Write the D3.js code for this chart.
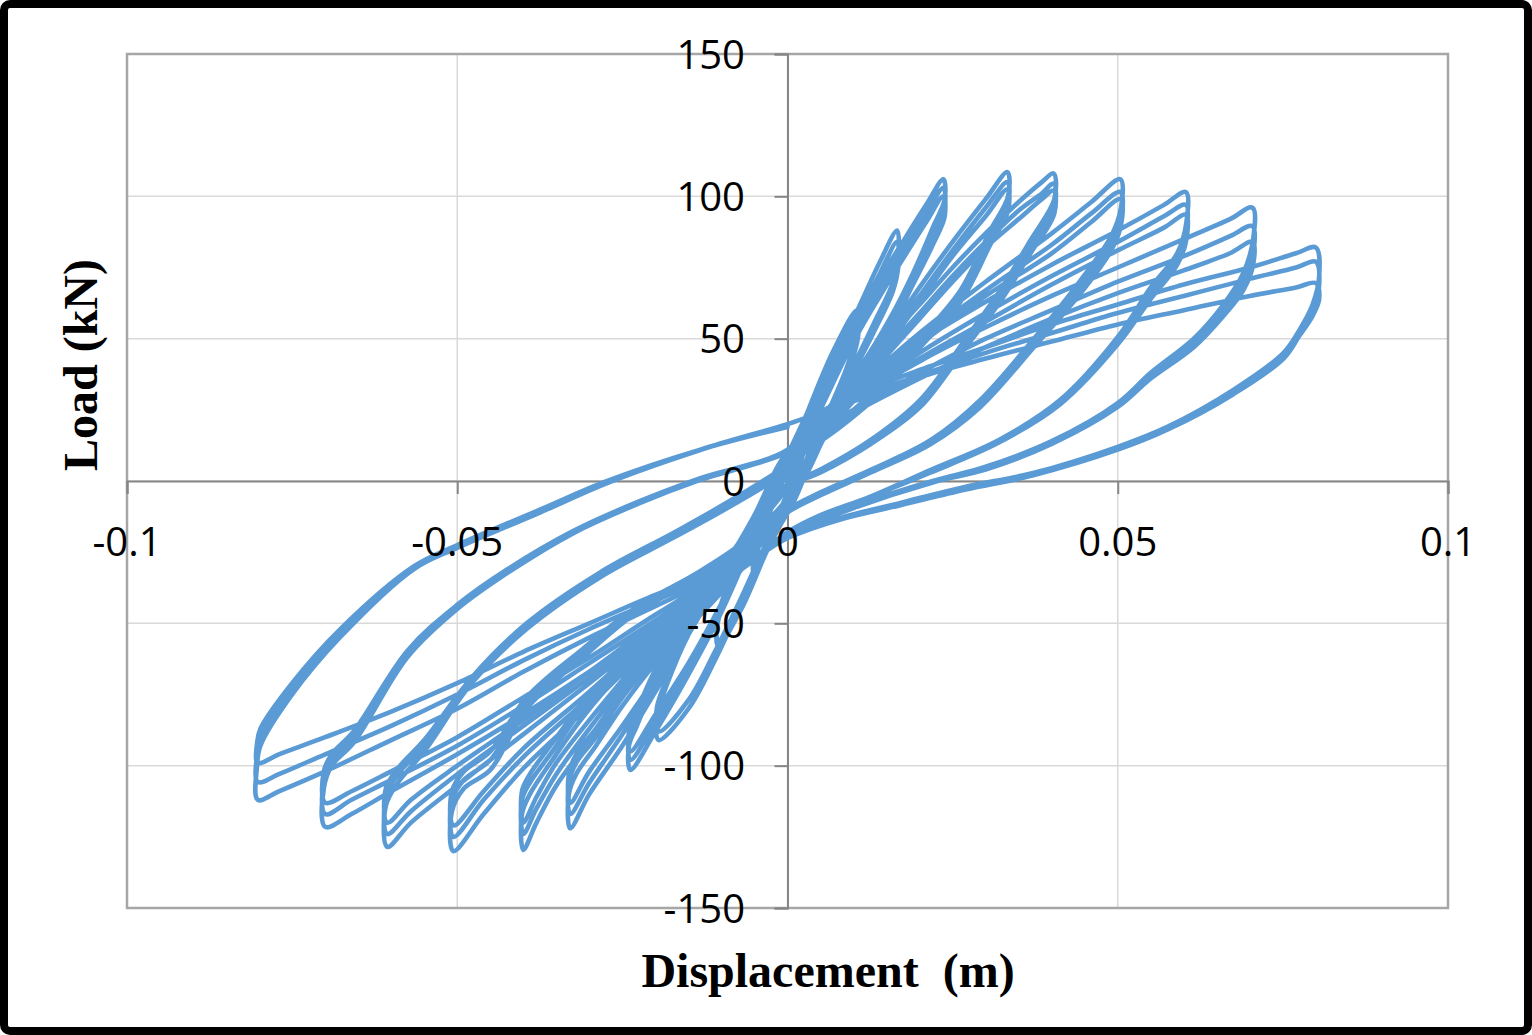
<!DOCTYPE html>
<html>
<head>
<meta charset="utf-8">
<script src="https://cdn.jsdelivr.net/npm/d3@7"></script>
<style>
  html, body { margin: 0; padding: 0; background: #fff; }
  svg { display: block; }
</style>
</head>
<body>
<svg id="chart" width="1532" height="1035"></svg>
<script>
// ---- Data: [displacement (m), load (kN)] ----
const xTicks = [-0.1, -0.05, 0, 0.05, 0.1];
const xTickLabels = ["-0.1", "-0.05", "0", "0.05", "0.1"];
const yTicks = [150, 100, 50, 0, -50, -100, -150];
const yTickLabels = ["150", "100", "50", "0", "-50", "-100", "-150"];

const cyclesSmall = [
  [0,0],[0.0025,18],[0.005,34],[0.0052,30],[0.003,14],[0,-5],[-0.0025,-19],[-0.005,-33],[-0.0052,-29],[-0.003,-13],[0,4],
  [0.0025,19],[0.005,33],[0.0052,28],[0.003,13],[0,-4],[-0.0025,-18],[-0.005,-32],[-0.0052,-28],[-0.003,-12],[0,5],
  [0.003,24],[0.007,46],[0.0105,60],[0.0107,54],[0.009,40],[0.005,18],[0.001,-6],[-0.003,-24],[-0.007,-45],[-0.0105,-58],[-0.0107,-52],[-0.009,-38],[-0.005,-18],[-0.001,4],
  [0.003,24],[0.007,45],[0.0105,57],[0.0107,51],[0.009,37],[0.005,16],[0.001,-7],[-0.003,-23],[-0.007,-43],[-0.0105,-56],[-0.0107,-50],[-0.009,-36],[-0.005,-16],[-0.001,5],
  [0.003,22],[0.007,42],[0.011,62],[0.014,77],[0.0166,88],[0.0168,80],[0.016,70],[0.013,55],[0.009,36],[0.004,14],[0.001,-4],[-0.003,-22],[-0.007,-43],[-0.011,-63],[-0.015,-80],[-0.0195,-91],[-0.0198,-83],[-0.018,-70],[-0.015,-54],[-0.010,-34],[-0.005,-14],[-0.001,6],
  [0.003,21],[0.007,40],[0.011,59],[0.014,73],[0.0166,84],[0.0168,76],[0.016,67],[0.013,52],[0.009,34],[0.004,12],[0.001,-5],[-0.003,-21],[-0.007,-41],[-0.011,-60],[-0.015,-77],[-0.0195,-88],[-0.0198,-80],[-0.018,-68],[-0.015,-52],[-0.010,-32],[-0.005,-12],[-0.001,7]
];

const cycles024 = [
  [0.003,18],[0.006,34],[0.010,54],[0.014,71],[0.018,86],[0.021,97],[0.0236,106],[0.0238,99],[0.022,89],[0.019,73],[0.0155,57],[0.011,40],[0.006,25],[0.002,13],[0,6],
  [-0.003,-8],[-0.006,-25],[-0.010,-46],[-0.015,-68],[-0.020,-88],[-0.0238,-101.5],[-0.024,-93],[-0.0228,-86],[-0.021,-76],[-0.018,-61],[-0.014,-46],[-0.009,-30],[-0.004,-14],[0,-2],
  [0.003,15],[0.006,31],[0.010,51],[0.014,68],[0.018,83],[0.021,94],[0.0236,103],[0.0238,96],[0.022,86],[0.019,71],[0.0155,55],[0.011,38],[0.006,23],[0.002,11],[0,5],
  [-0.003,-9],[-0.006,-25],[-0.010,-45],[-0.015,-66],[-0.020,-85],[-0.0238,-98],[-0.024,-90],[-0.0228,-83],[-0.021,-73],[-0.018,-59],[-0.014,-44],[-0.009,-28],[-0.004,-12],[0,-1],
  [0.003,15],[0.006,30],[0.010,49],[0.014,65],[0.018,80],[0.021,91],[0.0236,100],[0.0238,93],[0.022,83],[0.019,69],[0.0155,53],[0.011,37],[0.006,22],[0.002,10],[0,4],
  [-0.003,-9],[-0.006,-24],[-0.010,-43],[-0.015,-64],[-0.020,-82],[-0.0238,-95],[-0.024,-88],[-0.0228,-81],[-0.021,-71],[-0.018,-57],[-0.014,-42],[-0.009,-27],[-0.004,-11],[0,-1]
];

const cycles033 = [
  [0.003,8],[0.006,20],[0.010,34],[0.015,51],[0.020,68],[0.025,84],[0.030,99],[0.0333,108.5],[0.0334,100],[0.0307,88],[0.0262,67],[0.0201,50],[0.0141,34],[0.008,21],[0.002,11],[0,7],
  [-0.003,-4],[-0.006,-18],[-0.010,-34],[-0.015,-54],[-0.020,-74],[-0.025,-93],[-0.030,-110],[-0.0329,-122],[-0.0331,-110],[-0.032,-103],[-0.029,-93],[-0.025,-79],[-0.020,-64],[-0.014,-49],[-0.008,-34],[-0.003,-19],[0,-9],
  [0.003,6],[0.006,18],[0.010,32],[0.015,49],[0.020,65],[0.025,81],[0.030,96],[0.0333,105],[0.0334,97],[0.0307,85],[0.0262,65],[0.0201,48],[0.0141,32],[0.008,20],[0.002,10],[0,6],
  [-0.003,-5],[-0.006,-18],[-0.010,-33],[-0.015,-52],[-0.020,-71],[-0.025,-89],[-0.030,-106],[-0.0329,-117],[-0.0331,-106],[-0.032,-99],[-0.029,-90],[-0.025,-76],[-0.020,-62],[-0.014,-47],[-0.008,-33],[-0.003,-18],[0,-8],
  [0.003,6],[0.006,17],[0.010,31],[0.015,47],[0.020,63],[0.025,79],[0.030,93],[0.0333,102.5],[0.0334,95],[0.0307,83],[0.0262,63],[0.0201,47],[0.0141,31],[0.008,19],[0.002,9],[0,5],
  [-0.003,-5],[-0.006,-17],[-0.010,-32],[-0.015,-51],[-0.020,-69],[-0.025,-86],[-0.030,-102],[-0.0329,-113],[-0.0331,-103],[-0.032,-96],[-0.029,-87],[-0.025,-74],[-0.020,-60],[-0.014,-46],[-0.008,-32],[-0.003,-17],[0,-8]
];

const cycles040 = [
  [0.003,5],[0.006,20],[0.010,34],[0.015,49],[0.020,62],[0.025,75],[0.030,87],[0.035,98],[0.0385,105],[0.0403,108],[0.0404,99],[0.0368,84.6],[0.0322,67],[0.027,50],[0.0201,28.5],[0.0126,14.4],[0.005,4],[0,-1.4],
  [-0.003,-10],[-0.006,-20],[-0.010,-32],[-0.015,-46],[-0.020,-60],[-0.025,-75],[-0.030,-91],[-0.035,-107],[-0.038,-120],[-0.040,-129.6],[-0.0402,-117],[-0.039,-110],[-0.0356,-98],[-0.031,-83],[-0.025,-67],[-0.018,-52],[-0.011,-38],[-0.005,-22],[0,-10],
  [0.003,4],[0.006,18],[0.010,31],[0.015,46],[0.020,59],[0.025,72],[0.030,84],[0.035,95],[0.0385,101],[0.0403,104.5],[0.0404,96],[0.0368,82],[0.0322,65],[0.027,48],[0.0201,27],[0.0126,13.5],[0.005,3],[0,-2],
  [-0.003,-11],[-0.006,-20],[-0.010,-31],[-0.015,-44],[-0.020,-58],[-0.025,-72],[-0.030,-87],[-0.035,-103],[-0.038,-115],[-0.040,-124],[-0.0402,-112],[-0.039,-106],[-0.0356,-95],[-0.031,-80],[-0.025,-65],[-0.018,-50],[-0.011,-37],[-0.005,-21],[0,-9],
  [0.003,4],[0.006,17],[0.010,30],[0.015,44],[0.020,57],[0.025,70],[0.030,82],[0.035,92],[0.0385,99],[0.0403,102],[0.0404,94],[0.0368,80],[0.0322,63],[0.027,47],[0.0201,26],[0.0126,13],[0.005,3],[0,-2],
  [-0.003,-11],[-0.006,-20],[-0.010,-30],[-0.015,-43],[-0.020,-56],[-0.025,-70],[-0.030,-84],[-0.035,-99],[-0.038,-111],[-0.040,-120],[-0.0402,-109],[-0.039,-103],[-0.0356,-92],[-0.031,-78],[-0.025,-63],[-0.018,-49],[-0.011,-36],[-0.005,-20],[0,-9]
];

const cycles050 = [
  [0.003,4],[0.006,19],[0.010,31],[0.015,42],[0.020,52],[0.030,70],[0.040,87],[0.046,98],[0.0504,106],[0.0505,96],[0.049,86],[0.0444,70.6],[0.0373,50],[0.0292,28.5],[0.0217,14.4],[0.0126,3.9],[0.005,-4],[0,-10],
  [-0.003,-16],[-0.006,-26],[-0.010,-34],[-0.015,-44],[-0.020,-56],[-0.030,-79],[-0.040,-101],[-0.046,-117],[-0.0506,-130],[-0.0508,-116],[-0.049,-108],[-0.045,-101.5],[-0.0395,-80],[-0.031,-62],[-0.0227,-46],[-0.0142,-35],[-0.007,-24],[0,-8],
  [0.003,3],[0.006,17],[0.010,29],[0.015,40],[0.020,50],[0.030,67],[0.040,83],[0.046,94],[0.0504,101.5],[0.0505,92],[0.049,83],[0.0444,68],[0.0373,48],[0.0292,27],[0.0217,13.5],[0.0126,3],[0.005,-5],[0,-11],
  [-0.003,-17],[-0.006,-26],[-0.010,-34],[-0.015,-43],[-0.020,-54],[-0.030,-76],[-0.040,-97],[-0.046,-112],[-0.0506,-125],[-0.0508,-112],[-0.049,-105],[-0.045,-98],[-0.0395,-78],[-0.031,-60],[-0.0227,-45],[-0.0142,-34],[-0.007,-23],[0,-7],
  [0.003,4],[0.006,17],[0.010,28],[0.015,39],[0.020,48],[0.030,65],[0.040,80],[0.046,91],[0.0504,99],[0.0505,90],[0.049,81],[0.0444,66],[0.0373,47],[0.0292,26],[0.0217,13],[0.0126,3],[0.005,-5],[0,-11],
  [-0.003,-17],[-0.006,-26],[-0.010,-33],[-0.015,-42],[-0.020,-53],[-0.030,-74],[-0.040,-94],[-0.046,-109],[-0.0506,-121],[-0.0508,-109],[-0.049,-102],[-0.045,-95],[-0.0395,-76],[-0.031,-59],[-0.0227,-44],[-0.0142,-33],[-0.007,-22],[0,-6]
];

const cycles060 = [
  [0.003,8],[0.006,22],[0.010,33],[0.020,49],[0.030,63],[0.040,76],[0.050,88],[0.057,97],[0.0603,101.5],[0.0604,91],[0.059,80],[0.055,68],[0.050,50.6],[0.0413,28.5],[0.032,14.4],[0.0217,3.9],[0.012,-6],[0.005,-12],[0,-18],
  [-0.004,-26],[-0.010,-36],[-0.020,-53],[-0.030,-71],[-0.040,-89],[-0.050,-107],[-0.057,-120],[-0.0606,-128.5],[-0.0608,-114],[-0.059,-106],[-0.055,-95],[-0.0478,-71],[-0.0395,-52],[-0.0283,-33.7],[-0.0171,-19.7],[-0.008,-8],[0,4],
  [0.004,16],[0.010,29],[0.020,45],[0.030,59],[0.040,72],[0.050,84],[0.057,93],[0.0603,97],[0.0604,88],[0.059,78],[0.055,66],[0.050,49],[0.0413,27.5],[0.032,14],[0.0217,3.5],[0.012,-6],[0.005,-12],[0,-18],
  [-0.004,-26],[-0.010,-35],[-0.020,-51],[-0.030,-69],[-0.040,-86],[-0.050,-103],[-0.057,-116],[-0.0606,-124],[-0.0608,-111],[-0.059,-103],[-0.055,-93],[-0.0478,-70],[-0.0395,-51],[-0.0283,-33],[-0.0171,-19],[-0.008,-7],[0,5],
  [0.004,16],[0.010,28],[0.020,43],[0.030,56],[0.040,69],[0.050,81],[0.057,89],[0.0603,93.5],[0.0604,85],[0.059,76],[0.055,64],[0.050,48],[0.0413,27],[0.032,13.5],[0.0217,3],[0.012,-6],[0.005,-12],[0,-18],
  [-0.004,-25],[-0.010,-34],[-0.020,-50],[-0.030,-67],[-0.040,-84],[-0.050,-100],[-0.057,-112],[-0.0606,-120],[-0.0608,-108],[-0.059,-101],[-0.055,-91],[-0.0478,-69],[-0.0395,-50],[-0.0283,-32],[-0.0171,-18],[-0.008,-6],[0,6]
];

const cycles070 = [
  [0.004,16],[0.010,28],[0.020,42],[0.030,54],[0.040,65],[0.050,75],[0.060,85],[0.067,92],[0.0704,96],[0.0705,85],[0.069,73],[0.066,62],[0.0615,50],[0.055,38],[0.050,27.4],[0.040,14],[0.030,5],[0.022,0],[0.010,-9],[0,-19],
  [-0.005,-27],[-0.010,-35],[-0.020,-51],[-0.030,-67],[-0.040,-82],[-0.050,-96],[-0.060,-109],[-0.066,-117],[-0.070,-121.5],[-0.0702,-108],[-0.069,-100],[-0.0657,-92],[-0.0575,-61.8],[-0.050,-45],[-0.0424,-32.3],[-0.0324,-18.3],[-0.0223,-7.7],[-0.0132,0.4],[0,10],
  [0.005,18],[0.010,25],[0.020,38],[0.030,50],[0.040,60],[0.050,70],[0.060,79],[0.067,86],[0.0704,89.5],[0.0705,80],[0.069,70],[0.066,60],[0.0615,48],[0.055,37],[0.050,26.5],[0.040,13.5],[0.030,4.5],[0.022,0],[0.010,-9],[0,-19],
  [-0.005,-27],[-0.010,-34],[-0.020,-49],[-0.030,-64],[-0.040,-79],[-0.050,-93],[-0.060,-105],[-0.066,-112],[-0.070,-117],[-0.0702,-105],[-0.069,-98],[-0.0657,-90],[-0.0575,-60.5],[-0.050,-44],[-0.0424,-31.5],[-0.0324,-18],[-0.0223,-7.5],[-0.0132,0.5],[0,10],
  [0.005,17],[0.010,24],[0.020,36],[0.030,47],[0.040,57],[0.050,66],[0.060,74],[0.067,80],[0.0704,84],[0.0705,76],[0.069,67],[0.066,58],[0.0615,47],[0.055,36],[0.050,26],[0.040,13],[0.030,4],[0.022,-0.5],[0.010,-9.5],[0,-19],
  [-0.005,-27],[-0.010,-33],[-0.020,-47],[-0.030,-62],[-0.040,-76],[-0.050,-90],[-0.060,-102],[-0.066,-109],[-0.070,-113],[-0.0702,-102],[-0.069,-96],[-0.0657,-88],[-0.0575,-59.5],[-0.050,-43.5],[-0.0424,-31],[-0.0324,-17.5],[-0.0223,-7],[-0.0132,1],[0,11]
];

const cycles080 = [
  [0.005,24],[0.010,30],[0.020,39],[0.030,47],[0.040,55],[0.050,62],[0.060,69],[0.070,75],[0.077,80],[0.080,82],[0.0805,72],[0.0795,62],[0.0775,53],[0.0751,45],[0.0675,32],[0.0575,19],[0.050,12],[0.0372,2.8],[0.027,-2],[0.0171,-7.7],[0.008,-13],[0,-20],
  [-0.005,-27],[-0.010,-33],[-0.020,-44],[-0.030,-55],[-0.040,-67],[-0.050,-80],[-0.060,-91],[-0.070,-102],[-0.077,-109],[-0.0802,-112],[-0.0803,-100],[-0.0798,-93],[-0.075,-75],[-0.0677,-54.8],[-0.0566,-31],[-0.050,-23.5],[-0.0374,-11],[-0.0273,-0.7],[-0.0132,10.9],[0,20],
  [0.005,24],[0.010,29],[0.020,37],[0.030,45],[0.040,52],[0.050,59],[0.060,65],[0.070,71],[0.077,75],[0.080,77],[0.0805,69],[0.0795,60],[0.0775,52],[0.0751,44],[0.0675,31],[0.0575,18.5],[0.050,11.5],[0.0372,2.5],[0.027,-2.5],[0.0171,-8],[0.008,-13],[0,-20],
  [-0.005,-27],[-0.010,-32],[-0.020,-42],[-0.030,-52],[-0.040,-63],[-0.050,-75],[-0.060,-86],[-0.070,-96],[-0.077,-103],[-0.0802,-105.7],[-0.0803,-96],[-0.0798,-90],[-0.075,-73],[-0.0677,-53.5],[-0.0566,-30.5],[-0.050,-23],[-0.0374,-10.5],[-0.0273,-0.5],[-0.0132,11],[0,20],
  [0.005,24],[0.010,28],[0.020,36.5],[0.030,43],[0.040,49],[0.050,55],[0.060,60],[0.070,65],[0.077,68],[0.080,69.5],[0.0805,64],[0.0795,58],[0.0775,51],[0.0751,43],[0.0675,30.5],[0.0575,18],[0.050,11],[0.0372,2],[0.027,-3],[0.0171,-8.5],[0.008,-13.5],[0,-20],
  [-0.005,-26],[-0.010,-31],[-0.020,-40],[-0.030,-50],[-0.040,-60],[-0.050,-71],[-0.060,-81],[-0.070,-90],[-0.077,-96],[-0.0802,-99],[-0.0803,-92],[-0.0798,-87],[-0.075,-71],[-0.0677,-52],[-0.0566,-30],[-0.050,-22.5],[-0.0374,-10],[-0.0273,0],[-0.0132,11],[0,19]
];

const record = [].concat(cyclesSmall, cycles024, cycles033, cycles040, cycles050, cycles060, cycles070, cycles080);

// ---- Layout ----
const svg = d3.select("#chart");
const W = 1532, H = 1035;
const plot = { left: 127, right: 1448, top: 54, bottom: 908 };

const x = d3.scaleLinear().domain([-0.1, 0.1]).range([plot.left, plot.right]);
const y = d3.scaleLinear().domain([-150, 150]).range([plot.bottom, plot.top]);

svg.append("rect").attr("x", 0).attr("y", 0).attr("width", W).attr("height", H).attr("fill", "#fff");

// gridlines
const g = svg.append("g");
g.selectAll("line.hgrid").data(yTicks).enter().append("line")
  .attr("x1", plot.left).attr("x2", plot.right)
  .attr("y1", d => y(d)).attr("y2", d => y(d))
  .attr("stroke", "#d9d9d9").attr("stroke-width", 1.5);
g.selectAll("line.vgrid").data(xTicks).enter().append("line")
  .attr("y1", plot.top).attr("y2", plot.bottom)
  .attr("x1", d => x(d)).attr("x2", d => x(d))
  .attr("stroke", "#d9d9d9").attr("stroke-width", 1.5);

// plot border
svg.append("rect")
  .attr("x", plot.left).attr("y", plot.top)
  .attr("width", plot.right - plot.left).attr("height", plot.bottom - plot.top)
  .attr("fill", "none").attr("stroke", "#a6a6a6").attr("stroke-width", 2.5);

// axes through zero
const xAxis = d3.axisBottom(x).tickValues(xTicks).tickSize(13).tickFormat("");
const yAxis = d3.axisLeft(y).tickValues(yTicks).tickSize(13).tickFormat("");
const gx = svg.append("g").attr("transform", `translate(0,${y(0)})`).call(xAxis);
const gy = svg.append("g").attr("transform", `translate(${x(0)},0)`).call(yAxis);
[gx, gy].forEach(a => {
  a.select(".domain").attr("stroke", "#868686").attr("stroke-width", 2);
  a.selectAll(".tick line").attr("stroke", "#868686").attr("stroke-width", 2);
});

// data line
const line = d3.line()
  .x(d => x(d[0]))
  .y(d => y(d[1]))
  .curve(d3.curveCatmullRom.alpha(0.5));
svg.append("path")
  .datum(record)
  .attr("d", line)
  .attr("fill", "none")
  .attr("stroke", "#5b9bd5")
  .attr("stroke-width", 4.6)
  .attr("stroke-linejoin", "round")
  .attr("stroke-linecap", "round");

// tick labels
const tickFont = "'Open Sans', 'DejaVu Sans', sans-serif";
svg.append("g").selectAll("text").data(xTicks).enter().append("text")
  .attr("x", d => x(d)).attr("y", 556)
  .attr("text-anchor", "middle")
  .attr("font-family", tickFont).attr("font-size", 40).attr("fill", "#000")
  .text((d, i) => xTickLabels[i]);
svg.append("g").selectAll("text").data(yTicks).enter().append("text")
  .attr("x", 745).attr("y", d => y(d) + 14.5)
  .attr("text-anchor", "end")
  .attr("font-family", tickFont).attr("font-size", 40).attr("fill", "#000")
  .text((d, i) => yTickLabels[i]);

// axis titles
svg.append("text")
  .attr("x", 828).attr("y", 987)
  .attr("text-anchor", "middle")
  .attr("font-family", "'Liberation Serif', 'Times New Roman', serif")
  .attr("font-weight", "bold").attr("font-size", 48)
  .style("white-space", "pre")
  .text("Displacement  (m)");
svg.append("text")
  .attr("transform", "translate(97,365) rotate(-90)")
  .attr("text-anchor", "middle")
  .attr("font-family", "'Liberation Serif', 'Times New Roman', serif")
  .attr("font-weight", "bold").attr("font-size", 48)
  .text("Load (kN)");

// black frame
svg.append("rect").attr("x", 4).attr("y", 4).attr("width", W - 8).attr("height", H - 8)
  .attr("rx", 6).attr("fill", "none").attr("stroke", "#000").attr("stroke-width", 8);
</script>
</body>
</html>
